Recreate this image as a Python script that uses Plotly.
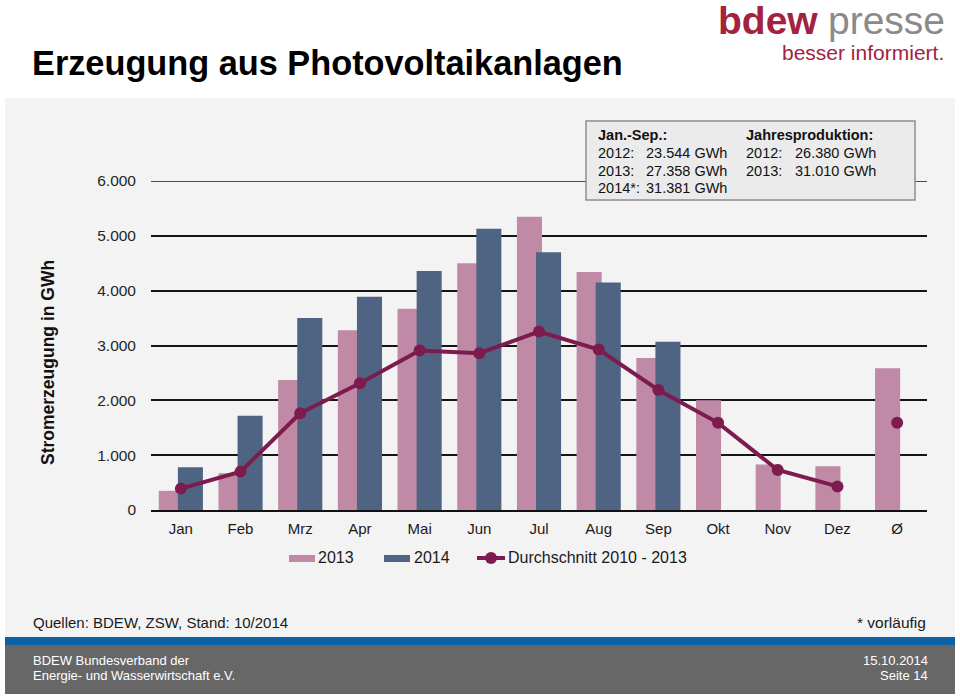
import plotly.graph_objects as go

# ---------------- data ----------------
months = ["Jan", "Feb", "Mrz", "Apr", "Mai", "Jun", "Jul", "Aug", "Sep", "Okt", "Nov", "Dez", "Ø"]
v2013 = [350, 670, 2370, 3280, 3670, 4500, 5350, 4340, 2770, 2000, 830, 800, 2584]
v2014 = [780, 1720, 3500, 3890, 4360, 5130, 4700, 4150, 3070]
avg_2010_2013 = [390, 700, 1765, 2310, 2910, 2860, 3255, 2925, 2190, 1590, 730, 430, 1590]
ytick_vals = [0, 1000, 2000, 3000, 4000, 5000, 6000]
ytick_text = ["0", "1.000", "2.000", "3.000", "4.000", "5.000", "6.000"]

PINK = "#c08aa6"
BLUE = "#4f6482"
MAROON = "#7d1b4e"
LOGO_RED = "#a3223f"
FONT = "Liberation Sans, Arial, sans-serif"
GRID = "#151515"

# plot-area pixel frame
L, R_, T, B = 151, 927, 181, 510


def X(px):
    return (px - L) / (R_ - L)


def Y(py):
    return (B - py) / (B - T)


fig = go.Figure()
fig.add_trace(go.Bar(x=months, y=v2013, width=0.42, offset=-0.37,
                     marker=dict(color=PINK, line=dict(width=0)), name="2013"))
fig.add_trace(go.Bar(x=months[:9], y=v2014, width=0.42, offset=-0.05,
                     marker=dict(color=BLUE, line=dict(width=0)), name="2014"))
fig.add_trace(go.Scatter(x=months[:12], y=avg_2010_2013[:12], mode="lines+markers",
                         line=dict(color=MAROON, width=4),
                         marker=dict(color=MAROON, size=12),
                         name="Durchschnitt 2010 - 2013"))
fig.add_trace(go.Scatter(x=months[12:], y=avg_2010_2013[12:], mode="markers",
                         marker=dict(color=MAROON, size=12), showlegend=False))

shapes = []
# panel background
shapes.append(dict(type="rect", xref="paper", yref="paper", layer="below",
                   x0=X(5), x1=X(955), y0=Y(637), y1=Y(98),
                   fillcolor="#f3f3f3", line=dict(width=0)))
# blue stripe
shapes.append(dict(type="rect", xref="paper", yref="paper", layer="below",
                   x0=X(5), x1=X(955), y0=Y(645), y1=Y(637),
                   fillcolor="#0d62a6", line=dict(width=0)))
# dark footer
shapes.append(dict(type="rect", xref="paper", yref="paper", layer="below",
                   x0=X(5), x1=X(955), y0=Y(694), y1=Y(645),
                   fillcolor="#676767", line=dict(width=0)))
# top gridline (6.000)
shapes.append(dict(type="line", xref="paper", yref="y", layer="above",
                   x0=0, x1=1, y0=ytick_vals[-1], y1=ytick_vals[-1],
                   line=dict(color=GRID, width=1.5)))
# info box
shapes.append(dict(type="rect", xref="paper", yref="paper", layer="above",
                   x0=X(586), x1=X(915), y0=Y(200), y1=Y(121),
                   fillcolor="#ebebeb", line=dict(color="#8e8e8e", width=1.5)))
# legend symbols
shapes.append(dict(type="rect", xref="paper", yref="paper",
                   x0=X(289), x1=X(315), y0=Y(562), y1=Y(555),
                   fillcolor=PINK, line=dict(width=0)))
shapes.append(dict(type="rect", xref="paper", yref="paper",
                   x0=X(384), x1=X(410), y0=Y(562), y1=Y(555),
                   fillcolor=BLUE, line=dict(width=0)))
shapes.append(dict(type="line", xref="paper", yref="paper",
                   x0=X(477), x1=X(505), y0=Y(558), y1=Y(558),
                   line=dict(color=MAROON, width=4)))
shapes.append(dict(type="circle", xref="paper", yref="paper",
                   x0=X(485), x1=X(497), y0=Y(564), y1=Y(552),
                   fillcolor=MAROON, line=dict(width=0)))

ann = []


def txt(text, px, py, size, color="#1a1a1a", anchor="left", bold=False, family=FONT):
    if bold:
        text = "<b>" + text + "</b>"
    ann.append(dict(text=text, x=X(px), y=Y(py), xref="paper", yref="paper",
                    xanchor=anchor, yanchor="middle", showarrow=False,
                    font=dict(size=size, color=color, family=family)))


# title
txt("Erzeugung aus Photovoltaikanlagen", 30, 63, 34.3, "#000000", bold=True)
# logo
txt("<b>bdew</b>", 716, 21, 39, LOGO_RED)
txt("presse", 826, 21, 39, "#8a8a8a")
txt("besser informiert.", 946, 52, 21, LOGO_RED, anchor="right")
# info box
txt("Jan.-Sep.:", 596, 135, 14.5, "#111111", bold=True)
txt("2012:", 596, 153, 14.5, "#111111")
txt("23.544 GWh", 644, 153, 14.5, "#111111")
txt("2013:", 596, 171, 14.5, "#111111")
txt("27.358 GWh", 644, 171, 14.5, "#111111")
txt("2014*:", 596, 188, 14.5, "#111111")
txt("31.381 GWh", 644, 188, 14.5, "#111111")
txt("Jahresproduktion:", 744, 135, 14.5, "#111111", bold=True)
txt("2012:", 744, 153, 14.5, "#111111")
txt("26.380 GWh", 793, 153, 14.5, "#111111")
txt("2013:", 744, 171, 14.5, "#111111")
txt("31.010 GWh", 793, 171, 14.5, "#111111")
# y axis title
ann.append(dict(text="<b>Stromerzeugung in GWh</b>", x=X(48), y=Y(363), xref="paper",
                yref="paper", xanchor="center", yanchor="middle", showarrow=False,
                textangle=-90, font=dict(size=17.5, color="#111111", family=FONT)))
# legend texts
txt("2013", 316, 557, 16)
txt("2014", 412, 557, 16)
txt("Durchschnitt 2010 - 2013", 506, 557, 16)
# footer
txt("Quellen: BDEW, ZSW, Stand: 10/2014", 31, 622, 15)
txt("* vorläufig", 928, 622, 15.5, anchor="right")
txt("BDEW Bundesverband der", 31, 660, 13, "#ffffff")
txt("Energie- und Wasserwirtschaft e.V.", 31, 675, 13, "#ffffff")
txt("15.10.2014", 930, 660, 13, "#ffffff", anchor="right")
txt("Seite 14", 930, 675, 13, "#ffffff", anchor="right")

fig.update_layout(
    width=960, height=696, autosize=False,
    margin=dict(l=L, r=960 - R_, t=T, b=696 - B, pad=0),
    paper_bgcolor="#ffffff", plot_bgcolor="rgba(0,0,0,0)",
    barmode="overlay", showlegend=False,
    font=dict(family=FONT, color="#1a1a1a"),
    shapes=shapes, annotations=ann,
    xaxis=dict(type="category", categoryorder="array", categoryarray=months,
               range=[-0.5, 12.5], showgrid=False, zeroline=False,
               showline=True, linecolor="#111111", linewidth=1.5,
               ticks="", tickfont=dict(size=15, color="#1a1a1a"),
               ticklabelstandoff=4),
    yaxis=dict(range=[0, 6000], tickvals=ytick_vals, ticktext=ytick_text,
               showgrid=True, gridcolor=GRID, gridwidth=1.5,
               zeroline=False, showline=False, ticks="",
               tickfont=dict(size=15.5, color="#262626"),
               ticklabelstandoff=14),
)

fig.write_html(
    "out.html",
    config={"displayModeBar": False},
    post_script="document.body.style.margin='0';document.body.style.padding='0';"
                "document.body.style.overflow='hidden';",
)
